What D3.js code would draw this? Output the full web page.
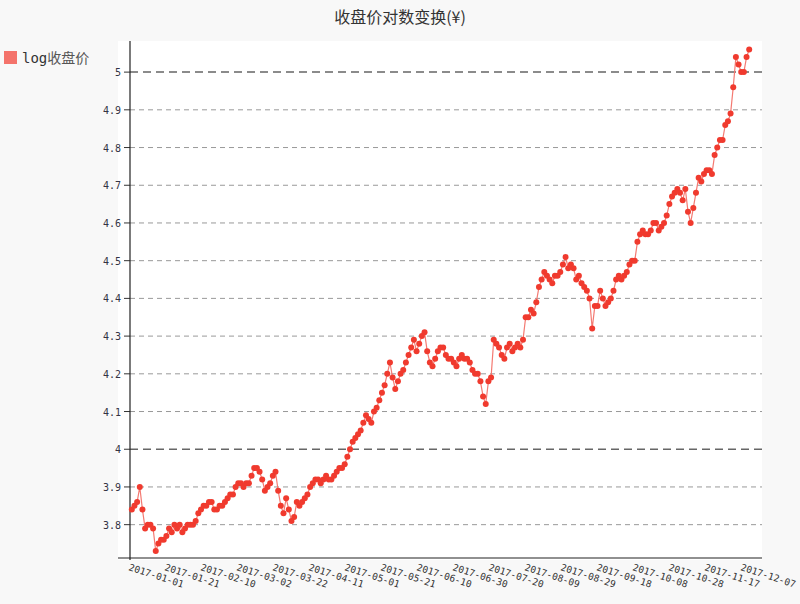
<!DOCTYPE html>
<html><head><meta charset="utf-8">
<script src="https://cdn.jsdelivr.net/npm/d3@7"></script>
<style>body{margin:0;background:#f8f8f8;}</style></head>
<body><svg id="c" width="800" height="604"></svg>
<script>
const title = "收盘价对数变换(¥)";
const seriesName = "log收盘价";
const tickLabels = ["2017-01-01","2017-01-21","2017-02-10","2017-03-02","2017-03-22","2017-04-11","2017-05-01","2017-05-21","2017-06-10","2017-06-30","2017-07-20","2017-08-09","2017-08-29","2017-09-18","2017-10-08","2017-10-28","2017-11-17","2017-12-07"];
const yTicks = [3.8,3.9,4,4.1,4.2,4.3,4.4,4.5,4.6,4.7,4.8,4.9,5];
const values = [3.84,3.85,3.86,3.90,3.84,3.79,3.80,3.80,3.79,3.73,3.75,3.76,3.76,3.77,3.79,3.78,3.80,3.79,3.80,3.78,3.79,3.80,3.80,3.80,3.81,3.83,3.84,3.85,3.85,3.86,3.86,3.84,3.84,3.85,3.85,3.86,3.87,3.88,3.88,3.90,3.91,3.91,3.90,3.91,3.91,3.93,3.95,3.95,3.94,3.92,3.89,3.90,3.91,3.93,3.94,3.89,3.85,3.83,3.87,3.84,3.81,3.82,3.86,3.85,3.86,3.87,3.88,3.90,3.91,3.92,3.92,3.91,3.92,3.93,3.92,3.92,3.93,3.94,3.95,3.95,3.96,3.98,4.00,4.02,4.03,4.04,4.05,4.07,4.09,4.08,4.07,4.10,4.11,4.13,4.15,4.17,4.20,4.23,4.19,4.16,4.18,4.20,4.21,4.23,4.25,4.27,4.29,4.26,4.28,4.30,4.31,4.26,4.23,4.22,4.24,4.26,4.27,4.27,4.25,4.24,4.24,4.23,4.22,4.24,4.25,4.24,4.24,4.23,4.21,4.20,4.20,4.18,4.14,4.12,4.18,4.19,4.29,4.28,4.27,4.25,4.24,4.27,4.28,4.26,4.27,4.28,4.27,4.29,4.35,4.35,4.37,4.36,4.39,4.43,4.45,4.47,4.46,4.45,4.44,4.46,4.46,4.47,4.49,4.51,4.48,4.49,4.48,4.45,4.46,4.44,4.43,4.42,4.40,4.32,4.38,4.38,4.42,4.40,4.38,4.39,4.40,4.42,4.45,4.46,4.45,4.46,4.47,4.49,4.50,4.50,4.55,4.57,4.58,4.57,4.57,4.58,4.60,4.60,4.58,4.59,4.60,4.62,4.65,4.67,4.68,4.69,4.68,4.66,4.69,4.63,4.60,4.64,4.68,4.72,4.71,4.73,4.74,4.74,4.73,4.78,4.80,4.82,4.82,4.86,4.87,4.89,4.96,5.04,5.02,5.00,5.00,5.04,5.06];

const svg = d3.select("#c");
const L=118,R=762,T=41,B=560;
svg.append("rect").attr("x",L).attr("y",T).attr("width",R-L).attr("height",B-T).attr("fill","#fff");
const y = d3.scaleLinear().domain([3.7063,5.0825]).range([B,T]);
const xDay = d3.scaleLinear().domain([0,340]).range([130,742]);
const idx = d3.scaleLinear().domain([0,values.length-1]).range([1,344]);
const col = "#f03a2e";
yTicks.forEach(v=>{
  const major = Math.abs(v-Math.round(v))<1e-9;
  svg.append("line").attr("x1",130).attr("x2",R).attr("y1",y(v)).attr("y2",y(v))
    .attr("stroke",major?"#666":"#999").attr("stroke-width",major?1.5:1)
    .attr("stroke-dasharray",major?"8,5":"5,4");
  svg.append("line").attr("x1",124).attr("x2",130).attr("y1",y(v)).attr("y2",y(v)).attr("stroke","#333");
  svg.append("text").attr("x",121).attr("y",y(v)+4).attr("text-anchor","end")
    .attr("font-family","DejaVu Sans Mono").attr("font-size",10).attr("fill","#334").text(d3.format("")(v));
});
svg.append("line").attr("x1",130).attr("x2",130).attr("y1",T).attr("y2",B).attr("stroke","#222").attr("stroke-width",1.2);
svg.append("line").attr("x1",118).attr("x2",R).attr("y1",B-2).attr("y2",B-2).attr("stroke","#222").attr("stroke-width",1.2);
tickLabels.forEach((t,i)=>{
  const xx=xDay(i*20);
  svg.append("text").attr("transform",`translate(${xx-2},${B+10}) rotate(18)`)
    .attr("font-family","DejaVu Sans Mono").attr("font-size",9.5).attr("fill","#333").text(t);
});
const line = d3.line().x((d,i)=>xDay(idx(i))).y(d=>y(d));
svg.append("path").datum(values).attr("d",line).attr("fill","none").attr("stroke","#f47a72").attr("stroke-width",1.2);
svg.selectAll("circle.p").data(values).join("circle").attr("cx",(d,i)=>xDay(idx(i))).attr("cy",d=>y(d)).attr("r",3).attr("fill",col);
svg.append("text").attr("x",400).attr("y",23).attr("text-anchor","middle").attr("font-family","Noto Sans CJK SC").attr("font-size",16).attr("fill","#333").text(title);
svg.append("rect").attr("x",4).attr("y",51).attr("width",13).attr("height",13).attr("fill","#f4736b");
const lt = svg.append("text").attr("x",22).attr("y",63).attr("font-size",14).attr("fill","#555");
lt.append("tspan").attr("font-family","DejaVu Sans Mono").attr("fill","#333").text(seriesName.slice(0,3));
lt.append("tspan").attr("font-family","Noto Sans CJK SC").text(seriesName.slice(3));
</script></body></html>
